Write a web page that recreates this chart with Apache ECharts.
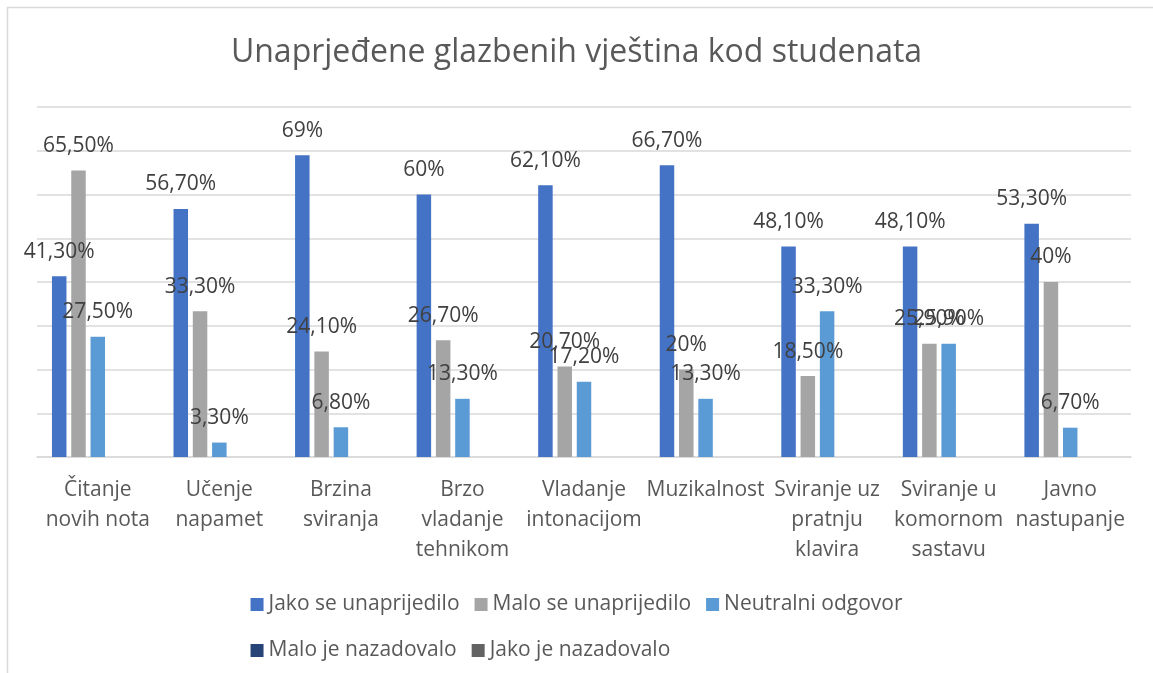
<!DOCTYPE html>
<html>
<head>
<meta charset="utf-8">
<script src="https://cdn.jsdelivr.net/npm/echarts@6/dist/echarts.min.js"></script>
<style>
  html, body { margin: 0; padding: 0; background: #fff; }
  #chart { width: 1153px; height: 673px; }
</style>
</head>
<body>
<div id="chart"></div>
<script>
// kategorije i vrijednosti (postoci)
var categories = [
  'Čitanje\nnovih nota', 'Učenje\nnapamet', 'Brzina\nsviranja', 'Brzo\nvladanje\ntehnikom',
  'Vladanje\nintonacijom', 'Muzikalnost', 'Sviranje uz\npratnju\nklavira',
  'Sviranje u\nkomornom\nsastavu', 'Javno\nnastupanje'
];
var seriesNames = ['Jako se unaprijedilo', 'Malo se unaprijedilo', 'Neutralni odgovor', 'Malo je nazadovalo', 'Jako je nazadovalo'];
var jakoUnaprijedilo = [41.3, 56.7, 69, 60, 62.1, 66.7, 48.1, 48.1, 53.3];
var maloUnaprijedilo = [65.5, 33.3, 24.1, 26.7, 20.7, 20, 18.5, 25.9, 40];
var neutralno = [27.5, 3.3, 6.8, 13.3, 17.2, 13.3, 33.3, 25.9, 6.7];
var maloNazadovalo = [];
var jakoNazadovalo = [];
var seriesColors = ['#4472C4', '#A5A5A5', '#5B9BD5', '#264478', '#636363'];

var font = 'Open Sans';

function fmt(p) {
  var v = p.value;
  if (Number.isInteger(v)) return v + '%';
  return v.toFixed(2).replace('.', ',') + '%';
}

var allData = [jakoUnaprijedilo, maloUnaprijedilo, neutralno, maloNazadovalo, jakoNazadovalo];
var series = allData.map(function (d, i) {
  return {
    name: seriesNames[i],
    type: 'bar',
    barWidth: 14.5,
    barGap: '33%',
    itemStyle: { color: seriesColors[i] },
    label: {
      show: true,
      position: 'top',
      distance: 14,
      color: '#404040',
      fontFamily: font,
      fontSize: 21,
      formatter: fmt
    },
    data: d
  };
});

var chart = echarts.init(document.getElementById('chart'));
chart.setOption({
  backgroundColor: '#fff',
  animation: false,
  graphic: [{
    type: 'rect',
    shape: { x: 7.5, y: 7.5, width: 1200, height: 720 },
    style: { fill: 'none', stroke: '#d9d9d9', lineWidth: 1.5 },
    z: -1
  }],
  title: {
    text: 'Unaprjeđene glazbenih vještina kod studenata',
    left: 'center',
    top: 32,
    textStyle: { fontFamily: font, fontSize: 32, fontWeight: 'normal', color: '#595959' }
  },
  legend: {
    data: seriesNames,
    left: 'center',
    top: 584,
    width: 760,
    itemWidth: 13,
    itemHeight: 13,
    itemGap: 15,
    icon: 'rect',
    textStyle: { fontFamily: font, fontSize: 21, color: '#595959', lineHeight: 31 }
  },
  grid: { left: 37, right: 22, top: 107, bottom: 216, containLabel: false },
  xAxis: {
    type: 'category',
    data: categories,
    axisLine: { lineStyle: { color: '#d9d9d9', width: 1.5 } },
    axisTick: { show: false },
    axisLabel: {
      interval: 0,
      margin: 18,
      fontFamily: font,
      fontSize: 21,
      lineHeight: 30,
      color: '#595959'
    }
  },
  yAxis: {
    type: 'value',
    min: 0,
    max: 80,
    interval: 10,
    axisLabel: { show: false },
    axisLine: { show: false },
    axisTick: { show: false },
    splitLine: { lineStyle: { color: '#d9d9d9', width: 1.5 } }
  },
  series: series
});
</script>
</body>
</html>
